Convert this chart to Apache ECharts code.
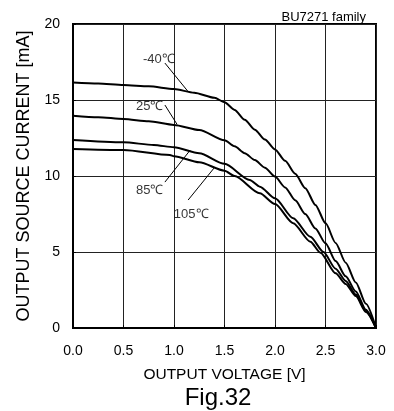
<!DOCTYPE html>
<html><head><meta charset="utf-8">
<script src="https://cdn.jsdelivr.net/npm/echarts@6/dist/echarts.min.js"></script>
<style>html,body{margin:0;padding:0;background:#fff}#c{width:394px;height:411px}</style>
</head><body><div id="c"></div>
<script>
const xTicks = [0, 0.5, 1.0, 1.5, 2.0, 2.5, 3.0];
const yTicks = [0, 5, 10, 15, 20];
const curveM40 = [[0,16.15],[0.25,16.08],[0.5,15.99],[0.75,15.9],[1.0,15.72],[1.2,15.48],[1.4,15.15],[1.5,14.85],[1.6,14.35],[1.7,13.7],[1.8,13.05],[1.9,12.4],[2.0,11.75],[2.1,11.0],[2.2,10.15],[2.3,9.2],[2.4,8.1],[2.5,6.9],[2.6,5.6],[2.7,4.3],[2.8,3.0],[2.9,1.6],[3.0,0]];
const curve25 = [[0,13.97],[0.25,13.87],[0.5,13.75],[0.75,13.6],[1.0,13.36],[1.25,13.03],[1.5,12.35],[1.6,11.95],[1.7,11.5],[1.8,11.05],[1.9,10.55],[2.0,9.96],[2.1,9.25],[2.2,8.4],[2.3,7.5],[2.4,6.55],[2.5,5.57],[2.6,4.4],[2.7,3.4],[2.8,2.4],[2.9,1.2],[3.0,0]];
const curve85 = [[0,12.37],[0.5,12.22],[0.8,12.04],[1.0,11.89],[1.25,11.5],[1.5,10.8],[1.75,9.74],[1.85,9.3],[2.0,8.53],[2.18,7.22],[2.35,6.0],[2.48,5.0],[2.6,3.9],[2.7,3.1],[2.8,2.2],[2.9,1.1],[3.0,0]];
const curve105 = [[0,11.78],[0.5,11.71],[0.96,11.38],[1.0,11.3],[1.25,10.9],[1.5,10.35],[1.6,10.0],[1.85,8.86],[2.0,8.15],[2.18,6.89],[2.35,5.68],[2.45,4.95],[2.6,3.6],[2.7,2.9],[2.8,2.1],[2.9,1.05],[3.0,0]];
const labelTexts = ['-40℃', '25℃', '85℃', '105℃'];
const labelPos = [[0.85,17.7],[0.76,14.6],[0.76,9.05],[1.17,7.45]];
const leaders = [
  [[0.91,17.43],[1.14,15.55]],
  [[0.91,14.67],[1.03,13.4]],
  [[0.91,9.6],[1.16,11.7]],
  [[1.14,8.42],[1.40,10.55]]
];
const FONT = 'Liberation Sans';
const chart = echarts.init(document.getElementById('c'));
const curves = [curveM40, curve25, curve85, curve105];
const series = curves.map(d => ({
  type: 'line', data: d, showSymbol: false, smooth: 0.25, smoothMonotone: 'x',
  lineStyle: {color: '#000', width: 2}, z: 3, silent: true
}));
leaders.forEach(l => series.push({
  type: 'line', data: l, showSymbol: false,
  lineStyle: {color: '#000', width: 1}, z: 4, silent: true
}));
series.push({
  type: 'scatter', symbolSize: 0, z: 5,
  data: labelPos.map((p, i) => ({value: p, label: {show: true, formatter: labelTexts[i]}})),
  label: {position: 'inside', color: '#000', fontFamily: FONT, fontSize: 13}
});
chart.setOption({
  animation: false,
  grid: {left: 73, right: 18, top: 24, bottom: 83, show: true, borderColor: '#000', borderWidth: 2, backgroundColor: 'transparent'},
  title: [
    {text: 'BU7271 family', right: 23, top: 6, textStyle: {fontFamily: FONT, fontSize: 13, fontWeight: 'normal', color: '#000'}},
    {text: 'Fig.32', left: 213, top: 381, textAlign: 'center', textStyle: {fontFamily: FONT, fontSize: 24, fontWeight: 'normal', color: '#000'}}
  ],
  xAxis: {
    type: 'value', min: xTicks[0], max: xTicks[xTicks.length-1], interval: 0.5,
    name: 'OUTPUT VOLTAGE [V]', nameLocation: 'middle', nameGap: 39,
    nameTextStyle: {fontFamily: FONT, fontSize: 15.5, color: '#000'},
    axisLine: {show: true, lineStyle: {color: '#000', width: 2}},
    axisTick: {inside: true, length: 3, lineStyle: {color: '#000'}},
    axisLabel: {fontFamily: FONT, fontSize: 14, color: '#000', margin: 16, formatter: v => v.toFixed(1)},
    splitLine: {show: true, lineStyle: {color: '#222', width: 1}}
  },
  yAxis: {
    type: 'value', min: yTicks[0], max: yTicks[yTicks.length-1], interval: 5,
    name: 'OUTPUT SOURCE CURRENT [mA]', nameLocation: 'middle', nameGap: 36,
    nameTextStyle: {fontFamily: FONT, fontSize: 18, color: '#000'},
    axisLine: {show: true, lineStyle: {color: '#000', width: 2}},
    axisTick: {inside: true, length: 3, lineStyle: {color: '#000'}},
    axisLabel: {fontFamily: FONT, fontSize: 14, color: '#000', margin: 13},
    splitLine: {show: true, lineStyle: {color: '#222', width: 1}}
  },
  series: series
});
</script></body></html>
